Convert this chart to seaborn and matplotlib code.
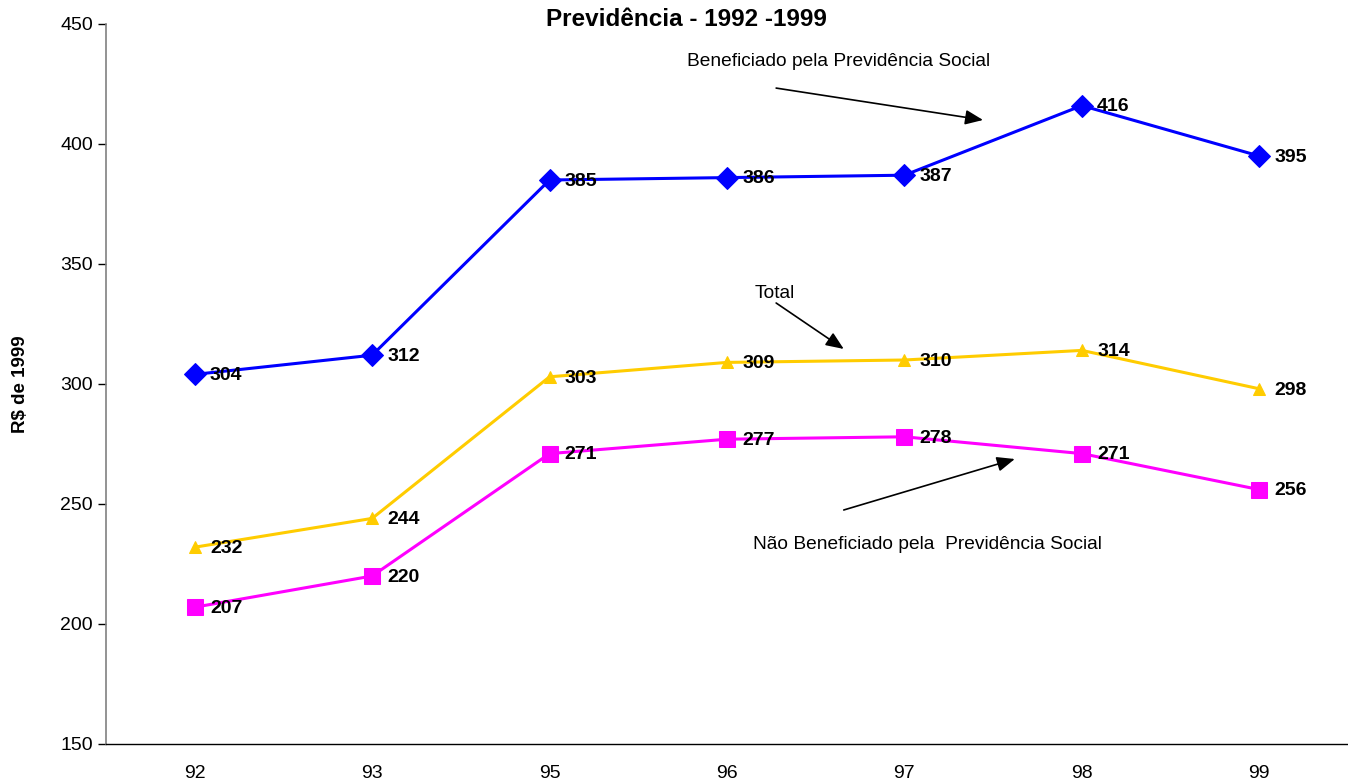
import matplotlib
matplotlib.use("Agg")
import matplotlib.pyplot as plt
import seaborn as sns
import pandas as pd
import numpy as np

years = ["92", "93", "95", "96", "97", "98", "99"]
beneficiado = [304, 312, 385, 386, 387, 416, 395]
total = [232, 244, 303, 309, 310, 314, 298]
nao_beneficiado = [207, 220, 271, 277, 278, 271, 256]

sns.set_style("white")
plt.rcParams['font.family'] = ['Liberation Sans', 'DejaVu Sans']
plt.rcParams['text.color'] = 'black'
plt.rcParams['axes.labelcolor'] = 'black'
plt.rcParams['xtick.color'] = 'black'
plt.rcParams['ytick.color'] = 'black'

fig = plt.figure(figsize=(13.48, 7.81), dpi=100)
ax = fig.add_axes([106/1348, 37/781, (1348-106)/1348, (744-24)/781])

pos = np.arange(len(years))
series = [
    (beneficiado, "#0000FF", "D", 11),
    (total, "#FFCC00", "^", 8.5),
    (nao_beneficiado, "#FF00FF", "s", 12),
]
for vals, col, mk, ms in series:
    df = pd.DataFrame({"x": pos, "y": vals})
    sns.lineplot(data=df, x="x", y="y", ax=ax, color=col, marker=mk,
                 markersize=ms, markeredgecolor=col, linewidth=2.2)
    for xi, yi in zip(pos, vals):
        ax.annotate(str(yi), (xi, yi), xytext=(11, -1), textcoords="offset points",
                    ha="left", va="center", fontsize=14, fontweight="bold")

ax.set_xlim(-0.5, 6.458)
ax.set_ylim(150, 450)
ax.set_yticks([150, 200, 250, 300, 350, 400, 450])
ax.set_xticks(pos)
ax.set_xticklabels(years)
ax.set_xticks(np.arange(-0.5, 7, 1), minor=True)
ax.tick_params(axis="x", which="major", length=0, labelsize=14, pad=15)
ax.tick_params(axis="x", which="minor", length=6, width=1, color="black", direction="out")
ax.tick_params(axis="y", length=6, width=1, color="black", direction="out", labelsize=14, left=True)
ax.set_xlabel("")
ax.set_ylabel("R$ de 1999", fontsize=13.5, fontweight="bold")
ax.yaxis.set_label_coords((29 - 106) / 1242, 0.5)
for s in ["top", "right"]:
    ax.spines[s].set_visible(False)
ax.spines["left"].set_color("#808080")
ax.spines["bottom"].set_color("black")
ax.spines["left"].set_linewidth(1.2)
ax.spines["bottom"].set_linewidth(1.0)

fig.text(686/1348, 1 - 19/781, "Previdência - 1992 -1999", ha="center", va="center",
         fontsize=17.5, fontweight="bold")

arrow = dict(arrowstyle="-|>,head_length=0.6,head_width=0.25", color="black", lw=1.2,
             mutation_scale=18, shrinkA=0, shrinkB=0)
ax.annotate("", xy=(4.443, 410), xytext=(3.277, 423.3), arrowprops=arrow)
ax.text(3.63, 434.2, "Beneficiado pela Previdência Social", ha="center", va="center", fontsize=13.8)
ax.annotate("", xy=(3.658, 314.6), xytext=(3.277, 333.75), arrowprops=arrow)
ax.text(3.27, 337.9, "Total", ha="center", va="center", fontsize=13.8)
ax.annotate("", xy=(4.622, 268.75), xytext=(3.658, 247.5), arrowprops=arrow)
ax.text(4.13, 233.3, "Não Beneficiado pela  Previdência Social", ha="center", va="center", fontsize=13.8)

fig.savefig("out.png", dpi=100)
